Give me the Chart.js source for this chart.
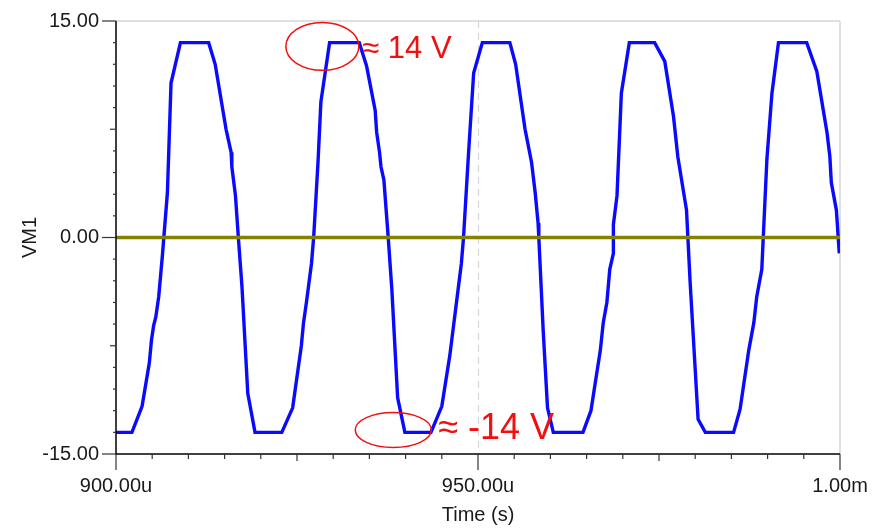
<!DOCTYPE html>
<html>
<head>
<meta charset="utf-8">
<title>VM1</title>
<script src="https://cdn.jsdelivr.net/npm/chart.js@4.4.1/dist/chart.umd.min.js"></script>
<style>
    html, body { margin: 0; padding: 0; background: #fff; }
    #wrap { width: 890px; height: 529px; }
</style>
</head>
<body>
<div id="wrap"><canvas id="vmChart" width="890" height="529"></canvas></div>
<script>
// Transient output, time in microseconds
var timeUs = [
    900, 902.2, 903.6, 904.6, 904.9, 905.2, 905.5, 905.9, 906.4, 907.1, 907.6, 908.9,
    912.8, 913.7, 915.2, 915.9, 916.0, 916.5, 916.9, 917.4, 918.2, 919.2,
    922.9, 924.4, 925.6, 925.9, 926.3, 927.0, 927.3, 927.9, 928.3, 929.5,
    933.6, 934.6, 935.8, 936.0, 936.4, 936.6, 937.0, 937.6, 938.1, 938.9, 939.9,
    943.5, 945.0, 946.1, 946.9, 947.7, 948.0, 948.7, 949.4, 950.6,
    954.4, 955.2, 956.5, 957.4, 957.9, 958.3, 958.4, 959.0, 959.6, 960.4,
    964.5, 965.6, 966.9, 967.3, 967.8, 968.2, 968.7, 968.7, 969.2, 969.8, 970.9,
    974.4, 975.8, 977.0, 977.6, 978.8, 979.3, 980.4, 981.4,
    985.3, 986.2, 987.4, 988.1, 988.5, 989.2, 989.4, 989.9, 990.6, 991.5,
    995.4, 996.8, 998.2, 998.6, 998.8, 999.5, 999.9
];
var vm1 = [
    -13.5, -13.5, -11.7, -8.7, -7.1, -6.1, -5.5, -4.1, -1.3, 3.1, 10.7, 13.5,
    13.5, 12.0, 7.5, 5.9, 4.9, 2.9, 0, -3.4, -10.8, -13.5,
    -13.5, -11.8, -7.5, -5.9, -4.5, -1.8, 0, 5.2, 9.4, 13.5,
    13.5, 11.9, 8.8, 7.3, 5.9, 4.9, 4.0, 0, -3.6, -11.1, -13.5,
    -13.5, -11.7, -8.2, -5.0, -1.8, 0, 5.9, 11.4, 13.5,
    13.5, 12.0, 7.5, 5.2, 3.1, 1.0, 0, -6.4, -11.8, -13.5,
    -13.5, -12.0, -7.8, -5.9, -4.5, -2.2, -1.1, 0.9, 2.9, 10.0, 13.5,
    13.5, 12.2, 8.4, 5.6, 1.9, -3.1, -12.6, -13.5,
    -13.5, -11.9, -7.8, -5.9, -4.1, -2.2, 0, 5.4, 10.0, 13.5,
    13.5, 11.5, 7.3, 5.6, 3.8, 1.9, -1.1
];

// Reference (ground) trace
var refTimeUs = [900, 1000];
var refLevel = [0, 0];

// Axis labels
var xTickValues = [900, 950, 1000];
var xTickLabels = ['900.00u', '950.00u', '1.00m'];
var yTickValues = [-15, 0, 15];
var yTickLabels = ['-15.00', '0.00', '15.00'];

var FONT = "'Liberation Sans', Arial, sans-serif";

function toPoints(xs, ys) {
    return xs.map(function (x, i) { return { x: x, y: ys[i] }; });
}

// Red callouts marking the clipping levels
var callouts = [
    { t: 928.5, v: 13.24, rt: 5.04, rv: 1.66, text: '\u2248 14 V', tt: 934.0, tv: 13.06, size: 31 },
    { t: 938.3, v: -13.34, rt: 5.25, rv: 1.21, text: '\u2248 -14 V', tt: 944.5, tv: -13.27, size: 36 }
];

function strokeLine(ctx, x1, y1, x2, y2) {
    ctx.beginPath();
    ctx.moveTo(x1, y1);
    ctx.lineTo(x2, y2);
    ctx.stroke();
}

var frameBack = {
    id: 'frameBack',
    beforeDatasetsDraw: function (chart) {
        var ctx = chart.ctx, a = chart.chartArea, x = chart.scales.x;
        ctx.save();
        ctx.strokeStyle = '#d6d6d6';
        ctx.lineWidth = 1.5;
        strokeLine(ctx, a.left, a.top, a.right, a.top);
        strokeLine(ctx, a.right, a.top, a.right, a.bottom);
        // cursor at 950u
        ctx.setLineDash([7, 5]);
        ctx.lineWidth = 1.2;
        var cx = Math.round(x.getPixelForValue(950)) + 0.5;
        strokeLine(ctx, cx, a.top, cx, a.bottom);
        ctx.restore();
    }
};

var axesFront = {
    id: 'axesFront',
    afterDatasetsDraw: function (chart) {
        var ctx = chart.ctx, a = chart.chartArea;
        var x = chart.scales.x, y = chart.scales.y;
        var i, px, len;
        ctx.save();
        ctx.strokeStyle = '#000';
        ctx.lineWidth = 1.5;
        strokeLine(ctx, a.left, a.top, a.left, a.bottom + 0.75);
        strokeLine(ctx, a.left, a.bottom, a.right, a.bottom);

        ctx.strokeStyle = '#333';
        ctx.lineWidth = 1.2;
        for (i = 0; i <= 20; i++) {
            px = y.getPixelForValue(-15 + 1.5 * i);
            len = (i % 10 === 0) ? 14 : (i % 5 === 0 ? 6 : 3);
            strokeLine(ctx, a.left - len, px, a.left, px);
        }
        for (i = 0; i <= 20; i++) {
            px = x.getPixelForValue(900 + 5 * i);
            len = (i % 10 === 0) ? 16 : (i % 5 === 0 ? 7 : 5);
            strokeLine(ctx, px, a.bottom, px, a.bottom + len);
        }

        // callouts
        ctx.strokeStyle = '#f01010';
        ctx.fillStyle = '#f01010';
        ctx.lineWidth = 1.5;
        callouts.forEach(function (c) {
            var cx = x.getPixelForValue(c.t), cy = y.getPixelForValue(c.v);
            var rx = x.getPixelForValue(c.t + c.rt) - cx;
            var ry = cy - y.getPixelForValue(c.v + c.rv);
            ctx.beginPath();
            ctx.ellipse(cx, cy, rx, ry, 0, 0, Math.PI * 2);
            ctx.stroke();
            ctx.font = c.size + 'px ' + FONT;
            ctx.textBaseline = 'middle';
            ctx.textAlign = 'left';
            ctx.fillText(c.text, x.getPixelForValue(c.tt), y.getPixelForValue(c.tv));
        });
        ctx.restore();
    }
};

var ctx = document.getElementById('vmChart').getContext('2d');
new Chart(ctx, {
    type: 'line',
    data: {
        datasets: [{
            label: 'ref',
            data: toPoints(refTimeUs, refLevel),
            borderColor: '#848000',
            borderWidth: 3.5,
            pointRadius: 0,
            tension: 0
        }, {
            label: 'VM1',
            data: toPoints(timeUs, vm1),
            borderColor: '#0a0aff',
            borderWidth: 3.4,
            pointRadius: 0,
            tension: 0
        }]
    },
    options: {
        responsive: false,
        animation: false,
        events: [],
        layout: { padding: { top: 21, right: 50, left: 0, bottom: 0 } },
        plugins: {
            legend: { display: false },
            tooltip: { enabled: false }
        },
        scales: {
            x: {
                type: 'linear',
                min: 900,
                max: 1000,
                afterBuildTicks: function (scale) {
                    scale.ticks = xTickValues.map(function (v) { return { value: v }; });
                },
                afterFit: function (scale) { scale.height = 75; },
                grid: { display: false, drawTicks: false },
                border: { display: false },
                ticks: {
                    autoSkip: false,
                    maxRotation: 0,
                    padding: 20,
                    color: '#1a1a1a',
                    font: { family: FONT, size: 20 },
                    callback: function (value) {
                        var i = xTickValues.indexOf(value);
                        return i >= 0 ? xTickLabels[i] : '';
                    }
                },
                title: {
                    display: true,
                    text: 'Time (s)',
                    color: '#1a1a1a',
                    font: { family: FONT, size: 20 },
                    padding: { top: 0, bottom: 2 }
                }
            },
            y: {
                type: 'linear',
                min: -15,
                max: 15,
                afterBuildTicks: function (scale) {
                    scale.ticks = yTickValues.map(function (v) { return { value: v }; });
                },
                afterFit: function (scale) {
                    scale.width = 116;
                    scale.paddingTop = 0;
                    scale.paddingBottom = 0;
                },
                grid: { display: false, drawTicks: false },
                border: { display: false },
                ticks: {
                    autoSkip: false,
                    padding: 17,
                    color: '#1a1a1a',
                    font: { family: FONT, size: 20 },
                    callback: function (value) {
                        var i = yTickValues.indexOf(value);
                        return i >= 0 ? yTickLabels[i] : '';
                    }
                },
                title: {
                    display: true,
                    text: 'VM1',
                    color: '#1a1a1a',
                    font: { family: FONT, size: 20 },
                    padding: { top: 18, bottom: 0 }
                }
            }
        }
    },
    plugins: [frameBack, axesFront]
});
</script>
</body>
</html>
